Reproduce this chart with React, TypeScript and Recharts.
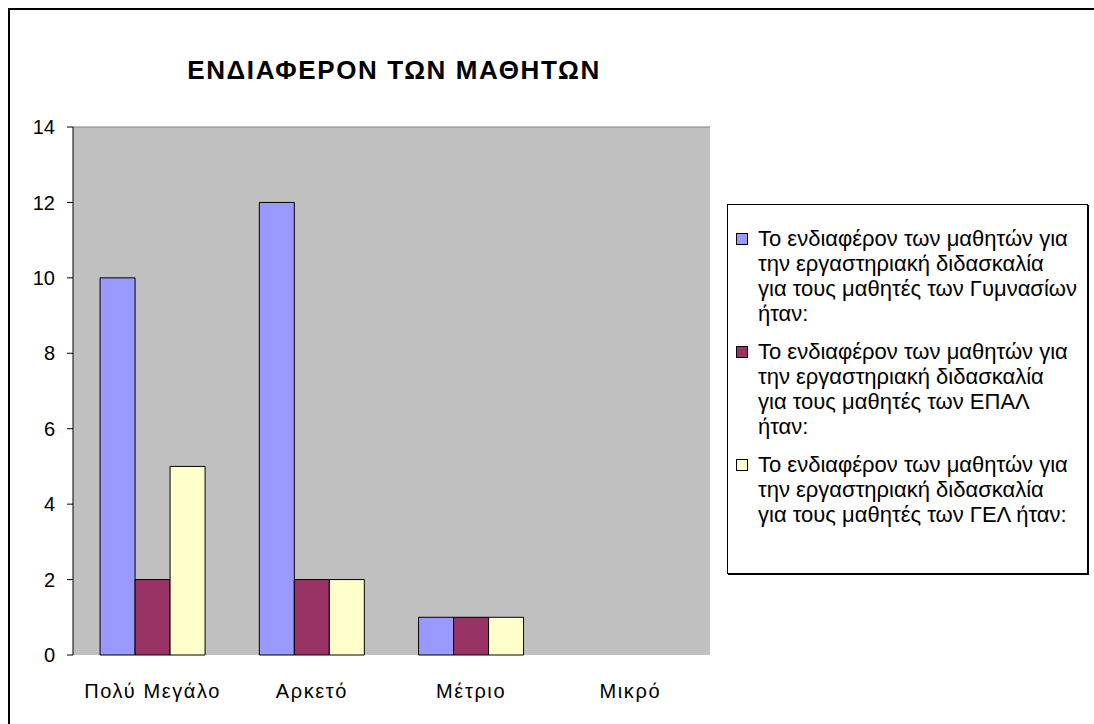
import React from "react";
import {
  BarChart,
  Bar,
  XAxis,
  YAxis,
  CartesianGrid,
  Legend,
  ReferenceLine,
} from "recharts";

const categories = ["Πολύ Μεγάλο", "Αρκετό", "Μέτριο", "Μικρό"];
const gymnasia = [10, 12, 1, 0];
const epal = [2, 2, 1, 0];
const gel = [5, 2, 1, 0];
const yTicks = [0, 2, 4, 6, 8, 10, 12, 14];
const edgeTicks = [0, 1, 2, 3, 4];

const seriesList = [
  {
    key: "gym",
    name: "Το ενδιαφέρον των μαθητών για την εργαστηριακή διδασκαλία για τους μαθητές των Γυμνασίων ήταν:",
    lines: [
      "Το ενδιαφέρον των μαθητών για",
      "την εργαστηριακή διδασκαλία",
      "για τους μαθητές των Γυμνασίων",
      "ήταν:",
    ],
    color: "#9999FF",
    values: gymnasia,
  },
  {
    key: "epal",
    name: "Το ενδιαφέρον των μαθητών για την εργαστηριακή διδασκαλία για τους μαθητές των ΕΠΑΛ ήταν:",
    lines: [
      "Το ενδιαφέρον των μαθητών για",
      "την εργαστηριακή διδασκαλία",
      "για τους μαθητές των ΕΠΑΛ",
      "ήταν:",
    ],
    color: "#993366",
    values: epal,
  },
  {
    key: "gel",
    name: "Το ενδιαφέρον των μαθητών για την εργαστηριακή διδασκαλία για τους μαθητές των ΓΕΛ ήταν:",
    lines: [
      "Το ενδιαφέρον των μαθητών για",
      "την εργαστηριακή διδασκαλία",
      "για τους μαθητές των ΓΕΛ ήταν:",
    ],
    color: "#FFFFCC",
    values: gel,
  },
];

const data = categories.map((cat, i) => {
  const row: { [k: string]: string | number } = { cat, idx: i };
  seriesList.forEach((s) => {
    row[s.key] = s.values[i];
  });
  return row;
});

const FONT = "'Liberation Sans', Arial, sans-serif";

const LegendBox = () => (
  <div
    style={{
      width: 361,
      height: 370,
      boxSizing: "border-box",
      border: "1px solid #000",
      boxShadow: "1px 1px 0 #000",
      background: "#fff",
      paddingTop: 21,
      paddingLeft: 8,
      fontFamily: FONT,
      fontSize: 22,
      color: "#000",
      textAlign: "left",
    }}
  >
    {seriesList.map((s) => (
      <div key={s.key} style={{ display: "flex", marginBottom: 13 }}>
        <div
          style={{
            width: 10,
            height: 10,
            marginTop: 7,
            marginRight: 10,
            background: s.color,
            border: "1px solid #000",
            flexShrink: 0,
          }}
        />
        <div style={{ lineHeight: "25px", whiteSpace: "nowrap" }}>
          {s.lines.map((l, j) => (
            <div key={j}>{l}</div>
          ))}
        </div>
      </div>
    ))}
  </div>
);

export default function App() {
  return (
    <div
      style={{
        position: "fixed",
        left: 8,
        top: 8,
        width: 1086,
        height: 716,
        boxSizing: "border-box",
        borderTop: "2px solid #000",
        borderLeft: "2px solid #000",
        overflow: "hidden",
        background: "#fff",
        fontFamily: FONT,
      }}
    >
      <div
        style={{
          position: "absolute",
          left: 0,
          top: 45,
          width: 768,
          textAlign: "center",
          fontSize: 26,
          fontWeight: "bold",
          letterSpacing: 1.6,
          lineHeight: "30px",
          color: "#000",
          zIndex: 2,
        }}
      >
        ΕΝΔΙΑΦΕΡΟΝ ΤΩΝ ΜΑΘΗΤΩΝ
      </div>
      <BarChart
        width={1084}
        height={714}
        data={data}
        margin={{ top: 117, right: 384, bottom: 29, left: 0 }}
        barCategoryGap="17%"
        barGap={0}
      >
        <CartesianGrid fill="#C0C0C0" horizontal={false} vertical={false} />
        <ReferenceLine y={14} stroke="#808080" strokeWidth={1} />
        <XAxis
          xAxisId="edges"
          type="number"
          dataKey="idx"
          domain={[0, 4]}
          ticks={edgeTicks}
          tick={false}
          height={0}
          stroke="#000"
          tickSize={6}
          allowDataOverflow
        />
        <XAxis
          dataKey="cat"
          axisLine={false}
          tickLine={false}
          tickSize={0}
          tickMargin={29}
          height={40}
          interval={0}
          tick={{ fill: "#000", fontSize: 20, fontFamily: FONT, letterSpacing: 1.6 }}
        />
        <YAxis
          width={63}
          domain={[0, 14]}
          ticks={yTicks}
          interval={0}
          stroke="#000"
          tickSize={6}
          tickMargin={12}
          tick={{ fill: "#000", fontSize: 20, fontFamily: FONT }}
        />
        <Legend
          layout="vertical"
          align="center"
          verticalAlign="middle"
          wrapperStyle={{ left: 717, top: 194, width: 361, height: 370 }}
          content={() => <LegendBox />}
        />
        {seriesList.map((s) => (
          <Bar
            key={s.key}
            dataKey={s.key}
            name={s.name}
            fill={s.color}
            stroke="#000"
            strokeWidth={1}
            isAnimationActive={false}
          />
        ))}
      </BarChart>
    </div>
  );
}
